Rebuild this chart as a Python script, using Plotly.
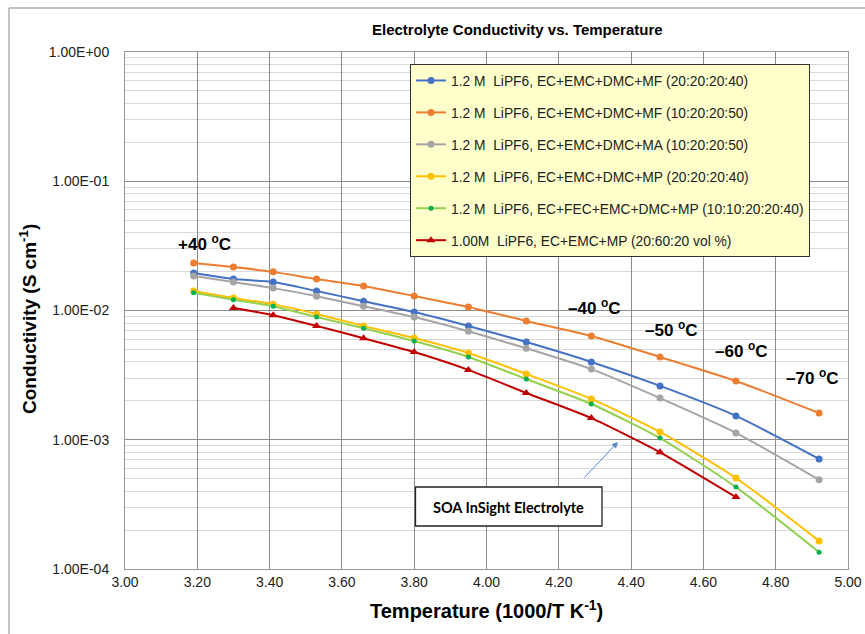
import plotly.graph_objects as go

# ---- data ----
inv_T = [3.19, 3.30, 3.41, 3.53, 3.66, 3.80, 3.95, 4.11, 4.29, 4.48, 4.69, 4.92]
inv_T_red = [3.30, 3.41, 3.53, 3.66, 3.80, 3.95, 4.11, 4.29, 4.48, 4.69]

names = [
    "1.2 M  LiPF6, EC+EMC+DMC+MF (20:20:20:40)",
    "1.2 M  LiPF6, EC+EMC+DMC+MF (10:20:20:50)",
    "1.2 M  LiPF6, EC+EMC+DMC+MA (10:20:20:50)",
    "1.2 M  LiPF6, EC+EMC+DMC+MP (20:20:20:40)",
    "1.2 M  LiPF6, EC+FEC+EMC+DMC+MP (10:10:20:20:40)",
    "1.00M  LiPF6, EC+EMC+MP (20:60:20 vol %)",
]
mf_20 = [0.0195, 0.0175, 0.0166, 0.01415, 0.0118, 0.00973, 0.00759, 0.0057, 0.0040, 0.00261, 0.00153, 0.00071]
mf_10 = [0.0233, 0.0217, 0.0199, 0.0175, 0.0155, 0.01295, 0.01064, 0.0083, 0.00635, 0.00437, 0.00285, 0.00161]
ma_10 = [0.0185, 0.0166, 0.0149, 0.0129, 0.0108, 0.0089, 0.0069, 0.0051, 0.00352, 0.0021, 0.00113, 0.00049]
mp_20 = [0.01415, 0.0125, 0.0112, 0.0094, 0.0076, 0.00612, 0.00469, 0.00323, 0.00207, 0.00115, 0.000506, 0.000165]
fec_mp = [0.0137, 0.0121, 0.0108, 0.0089, 0.0073, 0.0058, 0.00437, 0.00295, 0.00189, 0.00103, 0.00043, 0.000135]
soa = [0.01045, 0.0092, 0.0076, 0.0061, 0.00477, 0.00347, 0.0023, 0.00147, 0.0008, 0.00036]

y_tickvals = [1e-4, 1e-3, 1e-2, 1e-1, 1]
y_ticktext = ["1.00E-04", "1.00E-03", "1.00E-02", "1.00E-01", "1.00E+00"]
x_tickvals = [3.0, 3.2, 3.4, 3.6, 3.8, 4.0, 4.2, 4.4, 4.6, 4.8, 5.0]
x_ticktext = ["3.00", "3.20", "3.40", "3.60", "3.80", "4.00", "4.20", "4.40", "4.60", "4.80", "5.00"]

temp_labels = ["+40 <sup>o</sup>C", "–40 <sup>o</sup>C", "–50 <sup>o</sup>C", "–60 <sup>o</sup>C", "–70 <sup>o</sup>C"]

# ---- layout geometry ----
W, H = 865, 634
L, R, T, B = 125, 17, 52, 65
PW, PH = W - L - R, H - T - B


def px(x):
    return (x - L) / PW


def py(y):
    return 1 - (y - T) / PH


FONT = "Liberation Sans, Arial, sans-serif"

series = [
    (inv_T, mf_20, "#4472C4", "circle", 7, "#4472C4"),
    (inv_T, mf_10, "#ED7D31", "circle", 7, "#ED7D31"),
    (inv_T, ma_10, "#A5A5A5", "circle", 7, "#A5A5A5"),
    (inv_T, mp_20, "#FFC000", "circle", 7, "#FFC000"),
    (inv_T, fec_mp, "#92D050", "circle", 5, "#00B050"),
    (inv_T_red, soa, "#C00000", "triangle-up", 8, "#C00000"),
]

fig = go.Figure()
for i, (xs, ys, col, sym, ms, mcol) in enumerate(series):
    fig.add_trace(go.Scatter(
        x=xs, y=ys, name=names[i], mode="lines+markers",
        line=dict(color=col, width=2, shape="spline", smoothing=0.6),
        marker=dict(symbol=sym, size=ms, color=mcol),
        legendgroup=f"g{i}",
    ))


def label(text, x, y, size, family=FONT, angle=0):
    return dict(text=text, xref="paper", yref="paper", x=px(x), y=py(y),
                xanchor="center", yanchor="middle", showarrow=False, textangle=angle,
                font=dict(family=family, size=size, color="#000"))


annotations = [
    label("<b>Electrolyte Conductivity vs. Temperature</b>", 517, 30, 15),
    label("<b>Temperature (1000/T K<sup>-1</sup>)</b>", 486, 609, 20),
    label("<b>Conductivity (S cm<sup>-1</sup>)</b>", 28, 319, 19, angle=-90),
]
temp_pos = [(204, 243), (594, 307), (671, 329), (741, 350), (812, 377)]
for t, (tx, ty) in zip(temp_labels, temp_pos):
    annotations.append(label(f"<b>{t}</b>", tx, ty, 17))
# text box label
annotations.append(label("<b>SOA InSight Electrolyte</b>", 508, 507, 14.5,
                         family="Lato, Carlito, sans-serif"))
# arrow
annotations.append(dict(text="", xref="paper", yref="paper", x=px(618), y=py(442),
                        ax=583 - 618, ay=479 - 442, axref="pixel", ayref="pixel",
                        showarrow=True, arrowhead=2, arrowsize=1.2, arrowwidth=1,
                        arrowcolor="#5B85D0"))

shapes = [
    dict(type="rect", xref="paper", yref="paper", x0=px(415.5), x1=px(602), y0=py(526), y1=py(487),
         line=dict(color="#222", width=1.3), fillcolor="white", layer="above"),
    dict(type="rect", xref="paper", yref="paper", x0=px(9), x1=px(900), y0=py(700), y1=py(8),
         line=dict(color="#888", width=1), layer="below"),
]

fig.update_layout(
    width=W, height=H,
    margin=dict(l=L, r=R, t=T, b=B, autoexpand=False),
    paper_bgcolor="white", plot_bgcolor="white",
    showlegend=True,
    legend=dict(x=px(410), y=py(64), xanchor="left", yanchor="top",
                bgcolor="#FFFFCC", bordercolor="#333", borderwidth=1,
                font=dict(family=FONT, size=13.8, color="#222"),
                tracegroupgap=11, traceorder="grouped"),
    annotations=annotations,
    shapes=shapes,
)
fig.update_xaxes(
    range=[3.0, 5.0], tickvals=x_tickvals, ticktext=x_ticktext,
    showgrid=True, gridcolor="#8c8c8c", gridwidth=1,
    showline=True, linecolor="#999", linewidth=1, mirror=True,
    zeroline=False, ticks="", automargin=False,
    tickfont=dict(family=FONT, size=14, color="#222"),
)
fig.update_yaxes(
    type="log", range=[-4, 0], tickvals=y_tickvals, ticktext=y_ticktext,
    showgrid=True, gridcolor="#8c8c8c", gridwidth=1,
    minor=dict(showgrid=True, gridcolor="#d9d9d9", gridwidth=1, dtick="D1"),
    showline=True, linecolor="#999", linewidth=1, mirror=True,
    zeroline=False, ticks="", ticklabelstandoff=12, automargin=False,
    tickfont=dict(family=FONT, size=14, color="#222"),
)

fig.write_html("out.html")
